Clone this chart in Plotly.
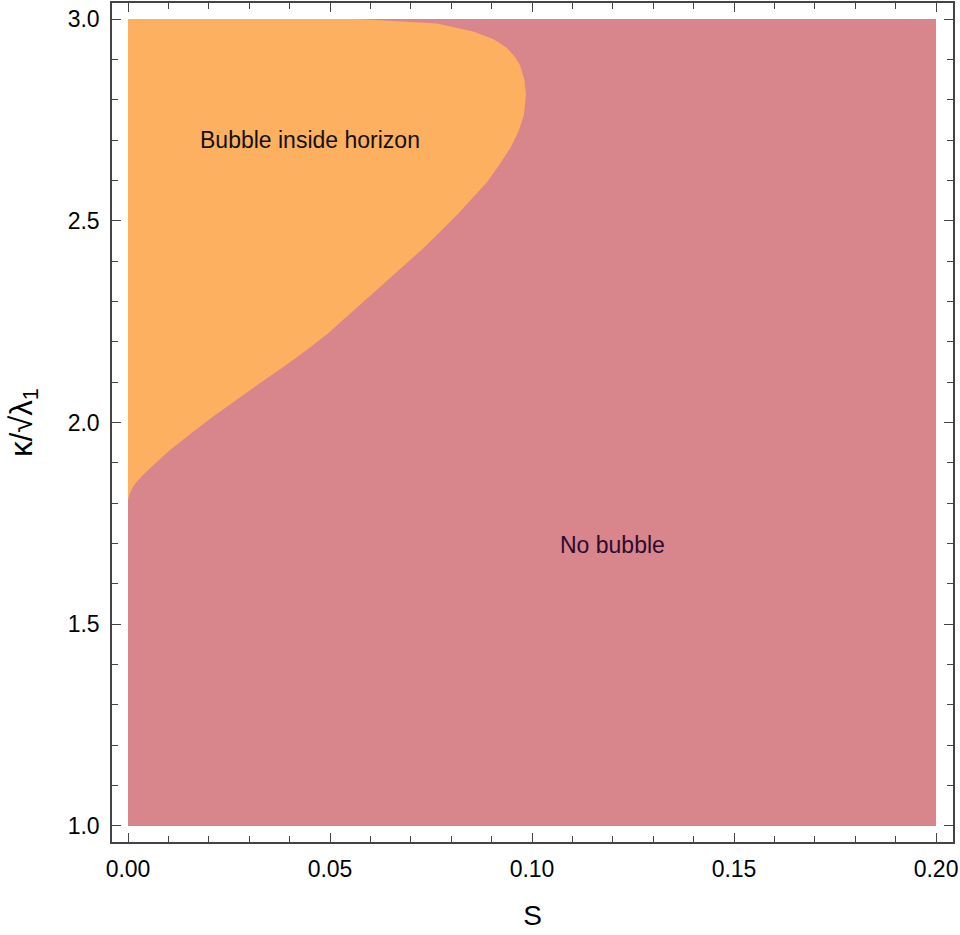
import plotly.graph_objects as go

# region box of the scan
s_range = [0.0, 0.2]
kappa_range = [1.0, 3.0]

# boundary of the "bubble inside horizon" region
bound_kappa = [3.000, 2.989, 2.969, 2.950, 2.928, 2.906, 2.886, 2.850, 2.812,
               2.762, 2.720, 2.680, 2.640, 2.596, 2.556, 2.514, 2.472, 2.432,
               2.390, 2.346, 2.304, 2.261, 2.220, 2.180, 2.140, 2.098, 2.056,
               2.014, 1.972, 1.932, 1.910, 1.890, 1.870, 1.850, 1.838, 1.825,
               1.815, 1.808]
bound_s = [0.0570, 0.0765, 0.0854, 0.0905, 0.0938, 0.0958, 0.0970, 0.0981, 0.0985,
           0.0980, 0.0966, 0.0946, 0.0920, 0.0889, 0.0853, 0.0814, 0.0772, 0.0731,
           0.0684, 0.0635, 0.0589, 0.0542, 0.0494, 0.0443, 0.0388, 0.0327, 0.0268,
           0.0210, 0.0155, 0.0104, 0.0080, 0.0059, 0.0037, 0.0019, 0.0011, 0.0005,
           0.0002, 0.0]

labels = ["Bubble inside horizon", "No bubble"]
label_s = [0.045, 0.1198]
label_kappa = [2.70, 1.696]

pink = "#d8868b"
orange = "#fdb060"
font_family = "Arial, Liberation Sans, sans-serif"

fig = go.Figure()

# whole box: no bubble
fig.add_trace(go.Scatter(
    x=[s_range[0], s_range[1], s_range[1], s_range[0], s_range[0]],
    y=[kappa_range[0], kappa_range[0], kappa_range[1], kappa_range[1], kappa_range[0]],
    fill="toself", fillcolor=pink, mode="lines", line=dict(width=0),
    hoverinfo="skip", showlegend=False,
))

# bubble inside horizon
fig.add_trace(go.Scatter(
    x=[s_range[0]] + bound_s + [s_range[0]],
    y=[kappa_range[1]] + bound_kappa + [kappa_range[1]],
    fill="toself", fillcolor=orange, mode="lines", line=dict(width=0),
    hoverinfo="skip", showlegend=False,
))

fig.add_annotation(x=label_s[0], y=label_kappa[0], text=labels[0], showarrow=False,
                   font=dict(family=font_family, size=23, color="#111111"))
fig.add_annotation(x=label_s[1], y=label_kappa[1], text=labels[1], showarrow=False,
                   font=dict(family=font_family, size=23, color="#2e0a2e"))

axis_common = dict(
    showline=True, linecolor="#444444", linewidth=1.5, mirror="ticks",
    ticks="inside", ticklen=9, tickcolor="#444444", tickwidth=1.2,
    showgrid=False, zeroline=False, ticklabeloverflow="allow",
    tickfont=dict(family=font_family, size=23, color="black"),
)

fig.update_xaxes(
    range=[-0.00396, 0.2042], tickvals=[0, 0.05, 0.1, 0.15, 0.2],
    ticktext=["0.00", "0.05", "0.10", "0.15", "0.20"],
    minor=dict(dtick=0.01, tick0=0, ticks="inside", ticklen=6, tickcolor="#444444"),
    title=dict(text="S", font=dict(family=font_family, size=28, color="black"),
               standoff=24),
    ticklabelstandoff=6,
    **axis_common,
)
fig.update_yaxes(
    range=[0.9603, 3.0397], tickvals=[1.0, 1.5, 2.0, 2.5, 3.0],
    ticktext=["1.0", "1.5", "2.0", "2.5", "3.0"],
    minor=dict(dtick=0.1, tick0=1.0, ticks="inside", ticklen=6, tickcolor="#444444"),
    title=dict(text="κ/√λ<sub>1</sub>",
               font=dict(family=font_family, size=31, color="black"),
               standoff=26),
    ticklabelstandoff=6,
    **axis_common,
)

fig.update_layout(
    width=960, height=935,
    margin=dict(l=112, r=7, t=3, b=93, autoexpand=False),
    paper_bgcolor="white", plot_bgcolor="white",
)

# drop the default page margin so the figure sits at the window's corner
fig.write_html("out.html", config={"displayModeBar": False},
               post_script="document.body.style.margin='0';"
                           "document.body.style.overflow='hidden';")
